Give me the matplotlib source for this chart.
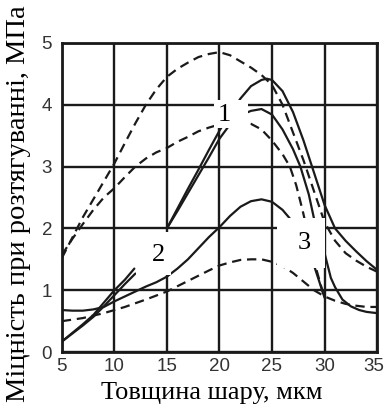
import matplotlib
matplotlib.use("Agg")
import matplotlib.pyplot as plt
from matplotlib.patches import Rectangle
from matplotlib.transforms import ScaledTranslation

# Tensile strength vs layer thickness
# group 1: solid curves starting at 15 um, dashed curves starting at 5 um
s1_x = [15, 16, 17, 18, 19, 20, 21, 22, 23, 24, 24.5, 25, 26, 27, 28, 29, 30, 31, 32, 33, 34, 35]
s1_y = [2.0, 2.32, 2.64, 2.95, 3.27, 3.58, 3.85, 4.1, 4.3, 4.4, 4.42, 4.4, 4.22, 3.88, 3.42, 2.9, 2.38, 2.0, 1.8, 1.63, 1.47, 1.33]

s2_x = [15, 16, 17, 18, 19, 20, 21, 22, 23, 24, 25, 26, 27, 27.7, 28.5, 29.2, 30, 30.6, 31, 31.7, 32.5, 33.3, 34, 35]
s2_y = [2.0, 2.28, 2.57, 2.86, 3.15, 3.45, 3.68, 3.83, 3.9, 3.93, 3.84, 3.6, 3.28, 3.0, 2.55, 2.0, 1.6, 1.2, 1.05, 0.85, 0.74, 0.68, 0.65, 0.63]

d1_x = [5, 6, 7, 8, 9, 10, 11, 12, 13, 14, 15, 16, 17, 18, 19, 20, 21, 22, 23, 24, 25, 26, 27, 28, 29, 30, 31, 32, 33, 34, 35]
d1_y = [1.52, 1.85, 2.18, 2.47, 2.76, 3.05, 3.38, 3.7, 4.0, 4.25, 4.45, 4.58, 4.68, 4.77, 4.82, 4.85, 4.8, 4.7, 4.6, 4.48, 4.32, 4.0, 3.55, 3.1, 2.6, 2.1, 1.8, 1.6, 1.48, 1.38, 1.3]

d2_x = [5, 6, 7, 8, 9, 10, 11, 12, 13, 14, 15, 16, 17, 18, 19, 20, 21, 22, 23, 24, 25, 26, 26.7, 27.3, 27.9, 28.5, 29.2, 29.7, 30]
d2_y = [1.57, 1.83, 2.07, 2.3, 2.5, 2.65, 2.83, 3.0, 3.13, 3.23, 3.3, 3.4, 3.48, 3.57, 3.63, 3.68, 3.72, 3.72, 3.69, 3.6, 3.42, 3.2, 3.0, 2.7, 2.3, 1.85, 1.35, 1.05, 0.88]

# group 2
b_x = [5, 6, 7, 8, 9, 10, 11, 12, 13, 14, 15, 16, 17, 18, 19, 20, 21, 22, 23, 24, 25, 26, 27, 28, 29, 30]
b_y = [0.68, 0.67, 0.67, 0.69, 0.73, 0.82, 0.9, 0.98, 1.06, 1.13, 1.22, 1.35, 1.5, 1.68, 1.86, 2.02, 2.2, 2.35, 2.44, 2.47, 2.43, 2.3, 2.1, 1.8, 1.4, 0.88]

c_x = [5, 7, 9, 11, 13, 15, 17, 19, 20, 21, 22, 23, 24, 25, 26, 27, 28, 29, 30, 31, 32, 33, 34, 35]
c_y = [0.5, 0.55, 0.63, 0.73, 0.85, 0.98, 1.15, 1.32, 1.4, 1.45, 1.49, 1.5, 1.5, 1.46, 1.39, 1.28, 1.14, 1.0, 0.9, 0.83, 0.78, 0.75, 0.73, 0.73]

ea_x = [5, 6, 7, 8, 9, 10, 11, 11.9]
ea_y = [0.17, 0.31, 0.45, 0.6, 0.8, 1.0, 1.17, 1.35]
eb_x = [5, 6, 7, 8, 9, 10, 11, 12]
eb_y = [0.17, 0.3, 0.43, 0.57, 0.74, 0.92, 1.1, 1.27]

# curve labels
label_text = ["1", "2", "3"]
label_x = [20.5, 14.2, 28.1]
label_y = [3.84, 1.57, 1.76]

x_ticks = [5, 10, 15, 20, 25, 30, 35]
y_ticks = [0, 1, 2, 3, 4, 5]

fig = plt.figure(figsize=(3.84, 4.08), dpi=100)
ax = fig.add_axes([0.161, 0.137, 0.821, 0.758])

ax.set_xlim(5, 35)
ax.set_ylim(0, 5)
ax.set_xticks(x_ticks)
ax.set_yticks(y_ticks)
ax.tick_params(length=0, labelsize=13.5, colors="#333333")
ax.tick_params(axis="x", pad=4)
ax.tick_params(axis="y", pad=7)
for lab in ax.get_xticklabels() + ax.get_yticklabels():
    lab.set_family("Liberation Sans")
last = ax.get_xticklabels()[-1]
last.set_transform(last.get_transform() + ScaledTranslation(-3 / 100, 0, fig.dpi_scale_trans))

ax.grid(True, color="#1a1a1a", linewidth=1.7, zorder=1)
ax.set_axisbelow(True)
for sp in ax.spines.values():
    sp.set_linewidth(2.0)
    sp.set_color("#1a1a1a")

solid = dict(color="#1a1a1a", linewidth=1.6, solid_capstyle="round", zorder=3)
dashed = dict(color="#1a1a1a", linewidth=1.6, linestyle=(0, (4.2, 2.6)), zorder=3)

ax.plot(s1_x, s1_y, **solid)
ax.plot(s2_x, s2_y, **solid)
ax.plot(d1_x, d1_y, **dashed)
ax.plot(d2_x, d2_y, **dashed)
ax.plot(b_x, b_y, **solid)
ax.plot(c_x, c_y, **dashed)
ax.plot(ea_x, ea_y, **solid)
ax.plot(eb_x, eb_y, **solid)

# white patches behind the curve numbers: (x0, y0, width, height) in data units
label_boxes = [(19.5, 3.62, 3.2, 0.46), (12.1, 1.25, 3.3, 0.69), (25.5, 1.36, 4.5, 0.81)]
for (bx, by, bw, bh) in label_boxes:
    ax.add_patch(Rectangle((bx, by), bw, bh, facecolor="white", edgecolor="none", zorder=4))
for txt, x, y in zip(label_text, label_x, label_y):
    ax.text(x, y, txt, fontsize=19, family="Liberation Serif", ha="center", va="center", zorder=5)

ax.set_xlabel("Товщина шару, мкм", fontsize=19, family="Liberation Serif")
ax.xaxis.set_label_coords(0.476, -0.098)
fig.text(0.066, 0.5, "Міцність при розтягуванні, МПа", rotation=90, rotation_mode="anchor",
         fontsize=20.5, family="Liberation Serif", ha="center", va="baseline")

fig.savefig("out.png", dpi=100)
